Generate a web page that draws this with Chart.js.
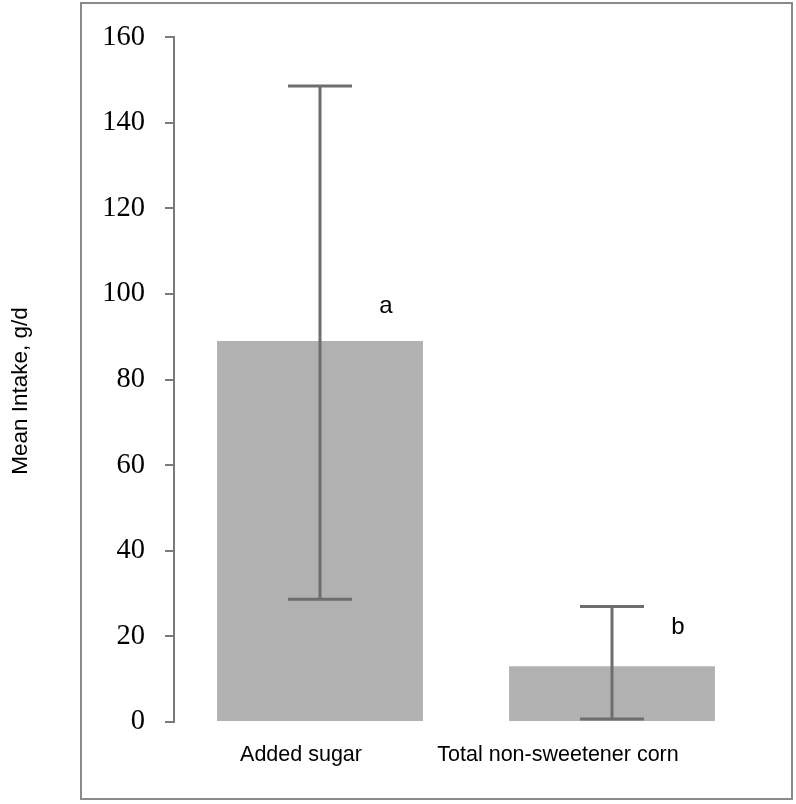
<!DOCTYPE html>
<html>
<head>
<meta charset="utf-8">
<script src="https://cdn.jsdelivr.net/npm/chart.js@4.4.0/dist/chart.umd.min.js"></script>
<style>
  html, body { margin: 0; padding: 0; background: #fff; }
  #wrap { width: 796px; height: 804px; }
</style>
</head>
<body>
<div id="wrap"><canvas id="intakeChart"></canvas></div>
<script>
    // ===================================
    // DATA
    // ===================================
    const categories = ['Added sugar', 'Total non-sweetener corn'];
    const meanIntake = [89, 13];
    const errLow = [28.7, 0.7];
    const errHigh = [148.6, 27];
    const groupLetters = ['a', 'b'];
    const letterLevel = [97, 22];
    const yTicks = [0, 20, 40, 60, 80, 100, 120, 140, 160];
    const yTitle = 'Mean Intake, g/d';

    const axisGrey = '#7a7a7a';
    const errGrey = '#6e6e6e';

    // frame, axis title, error bars, letters and shifted category labels
    const extrasPlugin = {
        id: 'extras',
        beforeDraw(chart) {
            const ctx = chart.ctx;
            ctx.save();
            ctx.strokeStyle = '#8a8a8a';
            ctx.lineWidth = 2;
            ctx.strokeRect(81, 3, 711, 796);
            // y title sits outside the frame, slightly below the axis middle
            ctx.translate(21, 391);
            ctx.rotate(-Math.PI / 2);
            ctx.fillStyle = '#000';
            ctx.font = '22.5px "Liberation Sans", Arial, sans-serif';
            ctx.textAlign = 'center';
            ctx.textBaseline = 'middle';
            ctx.fillText(yTitle, 0, 0);
            ctx.restore();
        },
        afterDatasetsDraw(chart) {
            const ctx = chart.ctx;
            const y = chart.scales.y;
            const x = chart.scales.x;
            const bars = chart.getDatasetMeta(0).data;
            ctx.save();
            ctx.strokeStyle = errGrey;
            ctx.lineWidth = 3;
            bars.forEach((bar, i) => {
                const cx = bar.x;
                const top = y.getPixelForValue(errHigh[i]);
                const bot = y.getPixelForValue(errLow[i]);
                ctx.beginPath();
                ctx.moveTo(cx, top); ctx.lineTo(cx, bot);
                ctx.moveTo(cx - 32, top); ctx.lineTo(cx + 32, top);
                ctx.moveTo(cx - 32, bot); ctx.lineTo(cx + 32, bot);
                ctx.stroke();
            });
            // significance letters
            ctx.fillStyle = '#000';
            ctx.font = '24px "Liberation Sans", Arial, sans-serif';
            ctx.textAlign = 'center';
            ctx.textBaseline = 'middle';
            bars.forEach((bar, i) => {
                ctx.fillText(groupLetters[i], bar.x + 66, y.getPixelForValue(letterLevel[i]));
            });
            // category labels (sit a bit left of the bars in the original)
            const shift = [-19, -54];
            ctx.font = '21.5px "Liberation Sans", Arial, sans-serif';
            categories.forEach((c, i) => {
                ctx.fillText(c, x.getPixelForValue(i) + shift[i], 755);
            });
            ctx.restore();
        }
    };

    const intakeConfig = {
        type: 'bar',
        data: {
            labels: categories,
            datasets: [{
                label: 'Mean Intake',
                data: meanIntake,
                backgroundColor: '#b1b1b1',
                borderWidth: 0,
                categoryPercentage: 1.0,
                barPercentage: 0.705
            }]
        },
        options: {
            responsive: true,
            maintainAspectRatio: false,
            animation: false,
            layout: { padding: { top: 34, right: 38, left: 0, bottom: 0 } },
            plugins: {
                legend: { display: false },
                tooltip: { enabled: false }
            },
            scales: {
                x: {
                    grid: { display: false },
                    border: { display: false },
                    ticks: { display: false },
                    afterFit(scale) { scale.height = 82; }
                },
                y: {
                    min: 0,
                    max: 160,
                    afterBuildTicks(scale) { scale.ticks = yTicks.map(v => ({ value: v })); },
                    afterFit(scale) { scale.width = 174; },
                    grid: {
                        drawOnChartArea: false,
                        drawTicks: true,
                        tickLength: 9,
                        color: axisGrey,
                        lineWidth: 2
                    },
                    border: { display: true, color: axisGrey, width: 2 },
                    ticks: {
                        color: '#000',
                        padding: 20,
                        font: { family: '"Liberation Serif", "Times New Roman", serif', size: 28.5 }
                    }
                }
            }
        },
        plugins: [extrasPlugin]
    };

    // --- Render Chart ---
    const ctxIntake = document.getElementById('intakeChart').getContext('2d');
    new Chart(ctxIntake, intakeConfig);
</script>
</body>
</html>
